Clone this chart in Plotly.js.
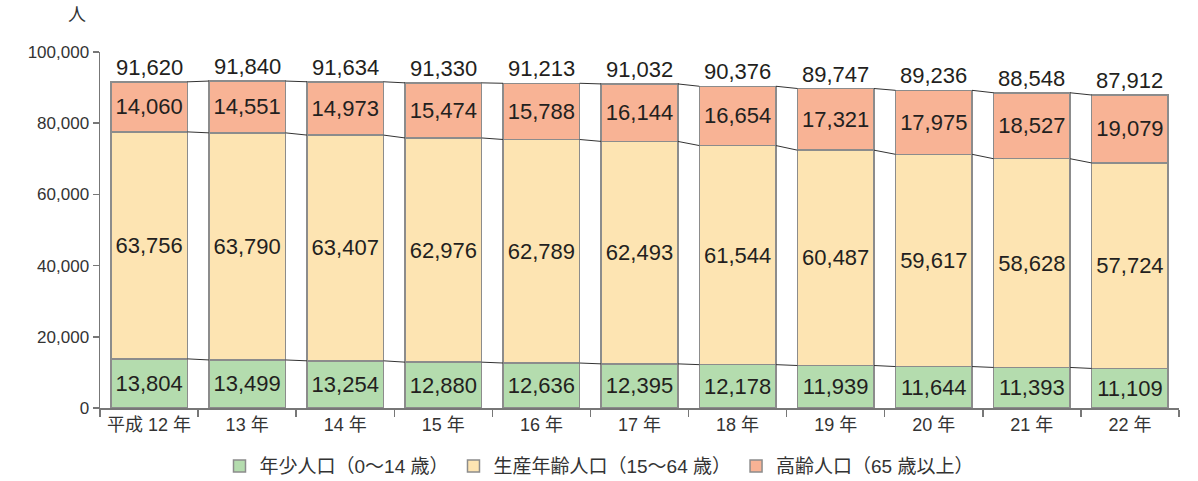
<!DOCTYPE html>
<html><head><meta charset="utf-8">
<script src="https://cdn.plot.ly/plotly-3.0.1.min.js"></script>
<style>html,body{margin:0;padding:0;background:#fff;}#chart{width:1198px;height:481px;}</style>
</head><body><div id="chart"></div>
<script>
const categories = ['平成 12 年','13 年','14 年','15 年','16 年','17 年','18 年','19 年','20 年','21 年','22 年'];
const youth = [13804,13499,13254,12880,12636,12395,12178,11939,11644,11393,11109];
const working = [63756,63790,63407,62976,62789,62493,61544,60487,59617,58628,57724];
const elderly = [14060,14551,14973,15474,15788,16144,16654,17321,17975,18527,19079];
const totals = [91620,91840,91634,91330,91213,91032,90376,89747,89236,88548,87912];
const seriesNames = ['年少人口（0～14 歳）','生産年齢人口（15～64 歳）','高齢人口（65 歳以上）'];

const FONT = 'Liberation Sans, Arial, Noto Sans CJK JP, sans-serif';
const JFONT = 'Liberation Sans, Noto Sans CJK JP, sans-serif';
const colors = ['#b4dcae','#fde4b2','#f8b395'];
const fmt = v => v.toLocaleString('en-US');
const bargap = 0.22;

function barTrace(vals, name, color){
  return {
    type:'bar', x:categories, y:vals, name:name,
    marker:{color:color, line:{color:'#8c8c8c', width:1.5}},
    text: vals.map(fmt), textposition:'inside', insidetextanchor:'middle',
    constraintext:'none', cliponaxis:false,
    textfont:{family:FONT, size:22, color:'#231f20'},
    hoverinfo:'none'
  };
}
const data = [
  barTrace(youth, seriesNames[0], colors[0]),
  barTrace(working, seriesNames[1], colors[1]),
  barTrace(elderly, seriesNames[2], colors[2])
];

const shapes = [];
const half = (1-bargap)/2;
const lvl1 = youth;
const lvl2 = youth.map((v,i)=>v+working[i]);
const lvl3 = lvl2.map((v,i)=>v+elderly[i]);
[lvl1,lvl2,lvl3].forEach(lv=>{
  for(let i=0;i<lv.length-1;i++){
    shapes.push({type:'line', xref:'x', yref:'y', x0:i+half, x1:i+1-half, y0:lv[i], y1:lv[i+1],
      line:{color:'#333333', width:1}});
  }
});

const annotations = totals.map((t,i)=>({
  x:categories[i], y:lvl3[i], xref:'x', yref:'y', text:fmt(t), showarrow:false,
  yanchor:'bottom', yshift:0, font:{family:FONT, size:22, color:'#231f20'}
}));
annotations.push({xref:'paper', yref:'paper', x:-0.021, y:1.105, xanchor:'center', yanchor:'middle', text:'人', showarrow:false,
  font:{family:JFONT, size:18, color:'#333'}});

const layout = {
  width:1198, height:481,
  margin:{l:100, r:19, t:52, b:73},
  paper_bgcolor:'#fff', plot_bgcolor:'#fff',
  barmode:'stack', bargap:bargap,
  showlegend:true,
  legend:{orientation:'h', x:0.5, xanchor:'center', xref:'container', y:0.031, yanchor:'middle', yref:'container',
    font:{family:JFONT, size:19, color:'#333'}, traceorder:'normal', itemwidth:30, tracegroupgap:0},
  xaxis:{type:'category', showline:true, linecolor:'#777', linewidth:1.5,
    ticks:'outside', tickson:'boundaries', ticklen:7, tickcolor:'#777', tickwidth:1.5,
    tickfont:{family:JFONT, size:18, color:'#333'}, showgrid:false, zeroline:false, fixedrange:true},
  yaxis:{range:[0,100000], tickvals:[0,20000,40000,60000,80000,100000], tickformat:',',
    showline:true, linecolor:'#777', linewidth:1.5, ticks:'outside', ticklen:6, tickcolor:'#777', tickwidth:1.5,
    tickfont:{family:FONT, size:17, color:'#333'}, showgrid:false, zeroline:false},
  shapes:shapes, annotations:annotations
};
Plotly.newPlot('chart', data, layout, {displayModeBar:false, staticPlot:true});
</script></body></html>
